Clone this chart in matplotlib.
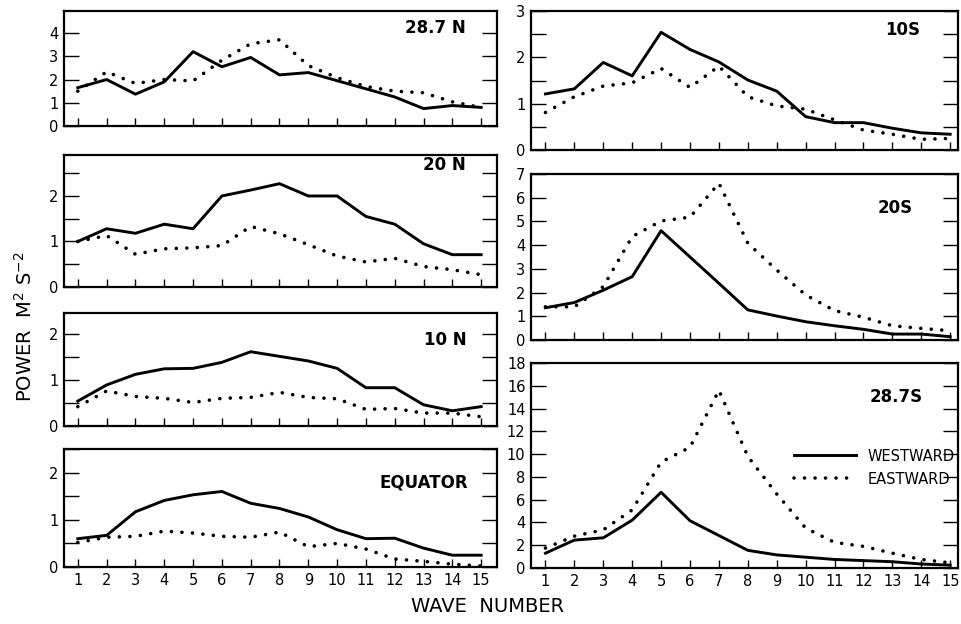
import matplotlib
matplotlib.use("Agg")
import matplotlib.pyplot as plt
from matplotlib.ticker import MultipleLocator
import numpy as np

plt.rcParams['font.family'] = ['DejaVu Sans']

wave = list(range(1, 16))

# 28.7 N
w_287n = [1.65, 2.0, 1.37, 1.9, 3.2, 2.55, 2.95, 2.2, 2.3, 1.95, 1.6, 1.25, 0.75, 0.88, 0.8]
e_287n = [1.5, 2.33, 1.83, 2.0, 1.94, 2.83, 3.54, 3.71, 2.6, 2.08, 1.7, 1.5, 1.43, 1.04, 0.8]
# 20 N
w_20n = [1.0, 1.28, 1.18, 1.38, 1.28, 2.0, 2.13, 2.27, 2.0, 2.0, 1.55, 1.38, 0.95, 0.71, 0.71]
e_20n = [1.0, 1.13, 0.72, 0.84, 0.86, 0.91, 1.33, 1.17, 0.93, 0.68, 0.55, 0.63, 0.45, 0.38, 0.27]
# 10 N
w_10n = [0.54, 0.89, 1.12, 1.24, 1.25, 1.38, 1.61, 1.51, 1.41, 1.25, 0.83, 0.83, 0.46, 0.33, 0.42]
e_10n = [0.42, 0.76, 0.64, 0.6, 0.51, 0.6, 0.62, 0.73, 0.62, 0.59, 0.36, 0.38, 0.28, 0.28, 0.2]
# Equator
w_eq = [0.6, 0.67, 1.17, 1.41, 1.53, 1.6, 1.35, 1.24, 1.06, 0.79, 0.6, 0.61, 0.4, 0.25, 0.25]
e_eq = [0.52, 0.63, 0.65, 0.76, 0.72, 0.65, 0.63, 0.74, 0.43, 0.5, 0.38, 0.17, 0.12, 0.06, 0.02]
# 10 S
w_10s = [1.21, 1.32, 1.89, 1.6, 2.54, 2.17, 1.9, 1.51, 1.27, 0.72, 0.59, 0.59, 0.47, 0.37, 0.34]
e_10s = [0.81, 1.15, 1.38, 1.45, 1.76, 1.35, 1.81, 1.15, 0.95, 0.88, 0.65, 0.43, 0.34, 0.23, 0.25]
# 20 S
w_20s = [1.36, 1.58, 2.1, 2.67, 4.61, 3.5, 2.39, 1.27, 1.01, 0.77, 0.6, 0.45, 0.25, 0.25, 0.14]
e_20s = [1.4, 1.4, 2.25, 4.36, 5.02, 5.18, 6.61, 4.08, 2.95, 1.9, 1.24, 0.96, 0.6, 0.49, 0.39]
# 28.7 S
w_287s = [1.3, 2.45, 2.65, 4.2, 6.65, 4.15, 2.85, 1.55, 1.15, 0.95, 0.75, 0.65, 0.55, 0.35, 0.25]
e_287s = [1.75, 2.8, 3.35, 5.1, 9.3, 10.6, 15.6, 9.8, 6.5, 3.5, 2.25, 1.9, 1.3, 0.75, 0.45]

panels = [
    # name, west, east, rect(px: left, top, right, bottom), ylim, major, minor, xlim, label pos, xlabels
    ("28.7 N", w_287n, e_287n, (64, 11, 497, 126), 4.95, 1, None, (0.52, 15.55), (14.45, 4.2), False),
    ("20 N", w_20n, e_20n, (64, 155, 497, 287), 2.9, 1, 0.5, (0.52, 15.55), (14.45, 2.68), False),
    ("10 N", w_10n, e_10n, (64, 313, 497, 426), 2.45, 1, 0.5, (0.52, 15.55), (14.5, 1.87), False),
    ("EQUATOR", w_eq, e_eq, (64, 449, 497, 567), 2.5, 1, 0.5, (0.52, 15.55), (14.55, 1.78), True),
    ("10S", w_10s, e_10s, (531, 11, 958, 150), 3.0, 1, 0.5, (0.5, 15.27), (13.97, 2.59), False),
    ("20S", w_20s, e_20s, (531, 174, 958, 340), 7.0, 1, None, (0.5, 15.27), (13.7, 5.57), False),
    ("28.7S", w_287s, e_287s, (531, 363, 958, 568), 18.0, 2, None, (0.5, 15.27), (14.04, 15.0), True),
]

W, H = 962, 624
fig = plt.figure(figsize=(W / 100, H / 100), dpi=100)

for name, west, east, (l, t, r, b), ytop, major, minor, xlim, lpos, xlab in panels:
    ax = fig.add_axes([l / W, 1 - b / H, (r - l) / W, (b - t) / H])
    lw_w, = ax.plot(wave, west, color='black', lw=2.1, solid_joinstyle='round',
                    label='WESTWARD')
    lw_e, = ax.plot(wave, east, color='black', lw=2.6, linestyle=(0, (0.01, 2.9)),
                    dash_capstyle='round', label='EASTWARD')
    ax.set_xlim(*xlim)
    ax.set_ylim(0, ytop)
    ax.set_xticks(wave)
    ax.yaxis.set_major_locator(MultipleLocator(major))
    if minor:
        ax.yaxis.set_minor_locator(MultipleLocator(minor))
    for s in ax.spines.values():
        s.set_linewidth(1.6)
    ax.tick_params(axis='x', direction='in', length=6, width=1.0, labelsize=10.5,
                   labelbottom=xlab, pad=4)
    ax.tick_params(axis='y', which='both', direction='in', length=11, width=1.0,
                   left=True, right=True, labelsize=10.5, pad=4)
    ax.tick_params(axis='y', which='minor', labelleft=False)
    ax.text(lpos[0], lpos[1], name, ha='right', va='center', fontsize=12,
            fontweight='bold')
    if name == "28.7S":
        ax.legend(handles=[lw_w, lw_e], loc='center right', bbox_to_anchor=(1.0, 0.49),
                  frameon=False, fontsize=10.5, handlelength=4.3, handletextpad=0.8,
                  labelspacing=0.55, borderpad=0.0, borderaxespad=0.2)

fig.text(25 / W, 1 - 327 / H, r"POWER  M$^2$ S$^{-2}$", rotation=90, ha='center',
         va='center', fontsize=14)
fig.text(488 / W, 1 - 607 / H, "WAVE  NUMBER", ha='center', va='center', fontsize=14)

fig.savefig("out.png", dpi=100)
